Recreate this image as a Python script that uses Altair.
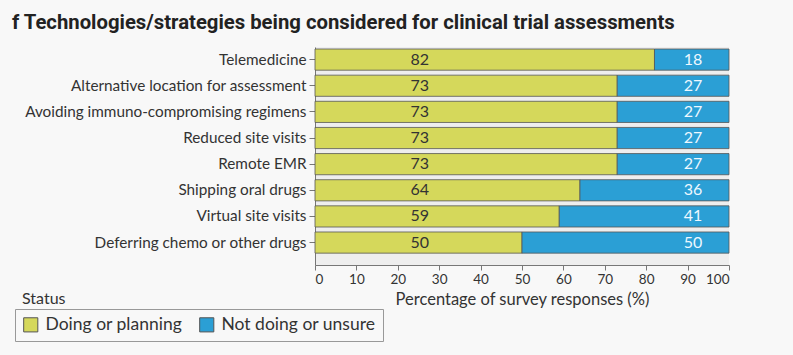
import altair as alt
import pandas as pd

categories = [
    "Telemedicine",
    "Alternative location for assessment",
    "Avoiding immuno-compromising regimens",
    "Reduced site visits",
    "Remote EMR",
    "Shipping oral drugs",
    "Virtual site visits",
    "Deferring chemo or other drugs",
]
doing = [82, 73, 73, 73, 73, 64, 59, 50]
not_doing = [18, 27, 27, 27, 27, 36, 41, 50]
statuses = ["Doing or planning", "Not doing or unsure"]
x_ticks = [0, 10, 20, 30, 40, 50, 60, 70, 80, 90, 100]

rows = []
for c, d, n in zip(categories, doing, not_doing):
    rows.append({"Strategy": c, "Status": statuses[0], "Value": d, "ord": 0})
    rows.append({"Strategy": c, "Status": statuses[1], "Value": n, "ord": 1})
df = pd.DataFrame(rows)
df_d = pd.DataFrame({"Strategy": categories, "Value": doing})
df_n = pd.DataFrame({"Strategy": categories, "Value": not_doing})

FONT = "Lato"
TFONT = "Roboto"

yscale = alt.Scale(domain=categories, paddingInner=0.19, paddingOuter=0.265, align=0.145)
yenc = alt.Y("Strategy:N", sort=categories, scale=yscale,
             axis=alt.Axis(title=None, labelFont=FONT, labelFontSize=15.3, labelColor="#333333",
                           tickColor="#777777", tickSize=6, labelPadding=3,
                           domainColor="#777777", labelLimit=400))
xscale = alt.Scale(domain=[0, 100], nice=False)

bars = alt.Chart(df).mark_bar(stroke="#555555", strokeWidth=0.8).encode(
    x=alt.X("Value:Q", stack="zero", scale=xscale,
            axis=alt.Axis(values=x_ticks, title="Percentage of survey responses (%)",
                          titleFont=FONT, titleFontSize=16.5, titleFontWeight="normal",
                          titleColor="#333333", titlePadding=6,
                          labelFont=FONT, labelFontSize=13.5, labelColor="#333333",
                          tickColor="#777777", tickSize=5, domainColor="#777777", grid=False)),
    y=yenc,
    color=alt.Color("Status:N", sort=statuses,
                    scale=alt.Scale(domain=statuses, range=["#d5d85b", "#2b9fd5"]),
                    legend=alt.Legend(title=None, orient="none", legendX=-300, legendY=262,
                                      direction="horizontal", symbolType="square",
                                      symbolSize=200, symbolStrokeColor="#555555",
                                      symbolStrokeWidth=1, labelFont=FONT, labelFontSize=17.5,
                                      labelColor="#333333", strokeColor="#999999",
                                      padding=7, columnPadding=14, labelOffset=6,
                                      labelLimit=300)),
    order=alt.Order("ord:Q"),
)

lab_d = alt.Chart(df_d).mark_text(font=FONT, fontSize=16, color="#333333").encode(
    x=alt.datum(25.3), y=alt.Y("Strategy:N", sort=categories, scale=yscale), text="Value:Q")
lab_n = alt.Chart(df_n).mark_text(font=FONT, fontSize=16, color="#eef8ff").encode(
    x=alt.datum(91.3), y=alt.Y("Strategy:N", sort=categories, scale=yscale), text="Value:Q")

status_txt = alt.Chart(pd.DataFrame({"t": ["Status"]})).mark_text(
    align="left", baseline="middle", font=FONT, fontSize=16, color="#333333").encode(
    x=alt.value(-293), y=alt.value(252), text="t:N")

chart = alt.layer(bars, lab_d, lab_n, status_txt).properties(
    width=414, height=218,
    autosize=alt.AutoSizeParams(type="none"),
    padding={"left": 315, "top": 47, "right": 64, "bottom": 90},
    background="#f8f8f8",
    title=alt.TitleParams("f  Technologies/strategies being considered for clinical trial assessments",
                          anchor="start", frame="group", dx=-303, dy=-2, offset=12,
                          font=TFONT, fontSize=20.3, fontWeight="bold", color="#222222"),
).configure_view(fill="#eeeeee", stroke=None)

chart.save("out.html", embed_options={"renderer": "svg", "actions": False})
